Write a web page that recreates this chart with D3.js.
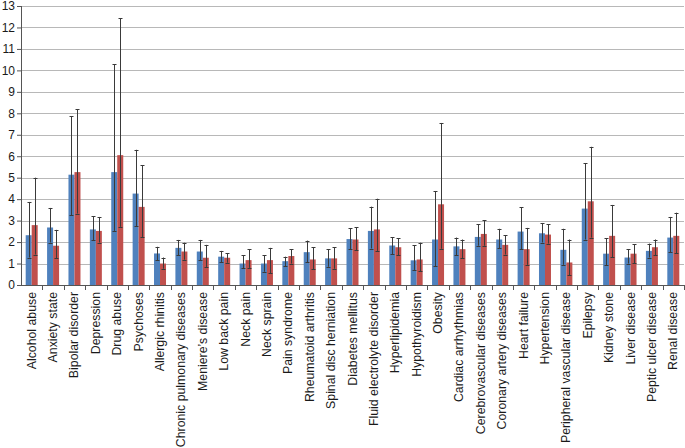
<!DOCTYPE html>
<html>
<head>
<meta charset="utf-8">
<script src="https://d3js.org/d3.v7.min.js"></script>
<style>
body { margin: 0; background: #fff; }
text { font-family: "Liberation Sans", Arial, sans-serif; fill: #1a1a1a; }
</style>
</head>
<body>
<div id="chart"></div>
<script>
var categories = ["Alcohol abuse", "Anxiety state", "Bipolar disorder", "Depression", "Drug abuse",
  "Psychoses", "Allergic rhinitis", "Chronic pulmonary diseases", "Meniere\u2019s disease", "Low back pain",
  "Neck pain", "Neck sprain", "Pain syndrome", "Rheumatoid arthritis", "Spinal disc herniation",
  "Diabetes mellitus", "Fluid electrolyte disorder", "Hyperlipidemia", "Hypothyroidism", "Obesity",
  "Cardiac arrhythmias", "Cerebrovascular diseases", "Coronary artery diseases", "Heart failure", "Hypertension",
  "Peripheral vascular disease", "Epilepsy", "Kidney stone", "Liver disease", "Peptic ulcer disease",
  "Renal disease"];

// blue series
var blueValue = [2.32, 2.68, 5.14, 2.59, 5.26, 4.26, 1.47, 1.73, 1.56, 1.32,
  1.0, 1.0, 1.11, 1.53, 1.24, 2.14, 2.52, 1.84, 1.15, 2.12,
  1.8, 2.24, 2.12, 2.49, 2.41, 1.64, 3.56, 1.46, 1.28, 1.59, 2.21];
var blueLow = [1.28, 1.98, 3.25, 2.09, 2.52, 2.75, 1.16, 1.38, 1.15, 1.07,
  0.77, 0.62, 0.88, 1.07, 0.85, 1.67, 1.7, 1.44, 0.7, 0.88,
  1.38, 1.83, 1.72, 1.66, 1.98, 0.94, 2.12, 0.91, 1.0, 1.28, 1.52];
var blueHigh = [3.87, 3.59, 7.86, 3.2, 10.29, 6.3, 1.78, 2.1, 2.1, 1.59,
  1.38, 1.38, 1.32, 2.07, 1.67, 2.65, 3.65, 2.23, 1.86, 4.38,
  2.21, 2.83, 2.62, 3.62, 2.89, 2.62, 5.68, 2.18, 1.66, 1.93, 3.17];

// red series
var redValue = [2.79, 1.83, 5.26, 2.52, 6.05, 3.64, 1.0, 1.56, 1.27, 1.27,
  1.16, 1.16, 1.35, 1.19, 1.24, 2.12, 2.59, 1.76, 1.19, 3.76,
  1.67, 2.38, 1.87, 1.67, 2.35, 1.05, 3.9, 2.29, 1.46, 1.76, 2.29];
var redLow = [1.42, 1.25, 3.33, 1.98, 2.71, 2.24, 0.76, 1.18, 0.84, 1.04,
  0.8, 0.55, 1.0, 0.73, 0.76, 1.63, 1.59, 1.39, 0.63, 1.69,
  1.24, 1.83, 1.42, 0.94, 1.93, 0.45, 2.21, 1.3, 1.02, 1.39, 1.49];
var redHigh = [5.0, 2.57, 8.19, 3.17, 12.43, 5.57, 1.28, 1.97, 1.87, 1.47,
  1.67, 1.73, 1.66, 1.75, 1.76, 2.69, 4.02, 2.18, 1.97, 7.55,
  2.12, 3.02, 2.32, 2.66, 2.83, 2.12, 6.44, 3.73, 1.9, 2.12, 3.37];

var yTicks = d3.range(0, 14);

var margin = {top: 6, right: 1, bottom: 163, left: 21},
    width = 685 - margin.left - margin.right,
    height = 448 - margin.top - margin.bottom;

var svg = d3.select("#chart")
  .append("svg")
  .attr("width", 685)
  .attr("height", 448)
  .append("g")
  .attr("transform", "translate(" + margin.left + "," + margin.top + ")");

var x = d3.scaleBand()
  .domain(categories)
  .range([0, width]);

var y = d3.scaleLinear()
  .domain([0, 13])
  .range([height, 0]);

var series = [
  {name: "blue", color: "#4f81bd", v: blueValue, lo: blueLow, hi: blueHigh},
  {name: "red", color: "#c0504d", v: redValue, lo: redLow, hi: redHigh}
];

var sub = d3.scaleBand()
  .domain(["blue", "red"])
  .range([x.bandwidth() / 2 - 6, x.bandwidth() / 2 + 6]);

// gridlines
svg.append("g")
  .selectAll("line")
  .data(yTicks.slice(1))
  .enter()
  .append("line")
  .attr("x1", 0)
  .attr("x2", width)
  .attr("y1", function(d){ return Math.round(y(d)) + 0.5; })
  .attr("y2", function(d){ return Math.round(y(d)) + 0.5; })
  .attr("stroke", "#b8b8b8")
  .attr("stroke-width", 1.2);

// bars
series.forEach(function(s){
  var g = svg.append("g");
  g.selectAll("rect")
    .data(categories)
    .enter()
    .append("rect")
    .attr("x", function(d){ return x(d) + sub(s.name); })
    .attr("width", sub.bandwidth())
    .attr("y", function(d, i){ return y(s.v[i]); })
    .attr("height", function(d, i){ return y(0) - y(s.v[i]); })
    .attr("fill", s.color);
});

// error bars
series.forEach(function(s){
  var g = svg.append("g").attr("stroke", "#3a3a3a").attr("stroke-width", 1);
  categories.forEach(function(c, i){
    var cx = Math.round(x(c) + sub(s.name) + sub.bandwidth() / 2) + 0.5;
    g.append("line")
      .attr("x1", cx).attr("x2", cx)
      .attr("y1", y(s.hi[i])).attr("y2", y(s.lo[i]));
    [s.hi[i], s.lo[i]].forEach(function(v){
      g.append("line")
        .attr("x1", cx - 2).attr("x2", cx + 2)
        .attr("y1", Math.round(y(v)) + 0.5).attr("y2", Math.round(y(v)) + 0.5);
    });
  });
});

// y axis
var yAxis = svg.append("g")
  .call(d3.axisLeft(y).tickValues(yTicks).tickSize(4).tickFormat(d3.format("d")));
yAxis.select(".domain").attr("stroke", "#555").attr("d", "M0.5,0V" + height + ".5");
yAxis.selectAll(".tick line").attr("stroke", "#555");
yAxis.selectAll("text").attr("font-size", 12).attr("fill", "#222").attr("x", -6);

// x axis with ticks between categories
var xAxis = svg.append("g")
  .attr("transform", "translate(0," + height + ")");
xAxis.append("line")
  .attr("x1", 0).attr("x2", width)
  .attr("y1", 0.5).attr("y2", 0.5)
  .attr("stroke", "#555");
xAxis.selectAll(".xt")
  .data(categories)
  .enter()
  .append("line")
  .attr("class", "xt")
  .attr("x1", function(d){ return Math.round(x(d) + x.bandwidth()) + 0.5; })
  .attr("x2", function(d){ return Math.round(x(d) + x.bandwidth()) + 0.5; })
  .attr("y1", 0).attr("y2", 5)
  .attr("stroke", "#555");

xAxis.selectAll(".lbl")
  .data(categories)
  .enter()
  .append("text")
  .attr("class", "lbl")
  .attr("font-size", 12.3)
  .attr("text-anchor", "end")
  .attr("transform", function(d){
    return "translate(" + (x(d) + x.bandwidth() / 2 + 4) + ",7)rotate(-90)";
  })
  .text(function(d){ return d; });
</script>
</body>
</html>
